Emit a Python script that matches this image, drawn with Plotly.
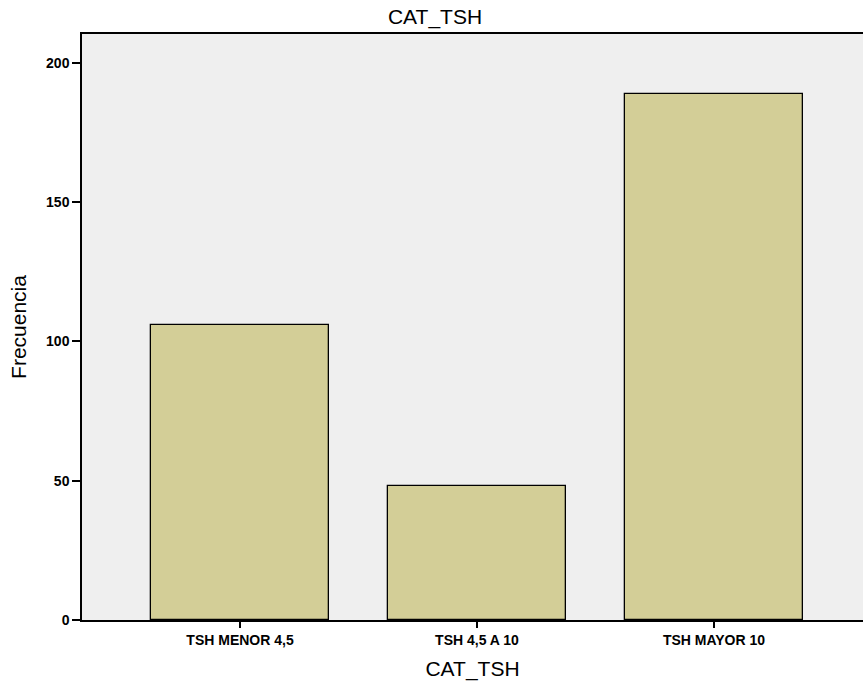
import plotly.graph_objects as go

categories = ["TSH MENOR 4,5", "TSH 4,5 A 10", "TSH MAYOR 10"]
frecuencia = [106, 48, 189]
y_ticks = [0, 50, 100, 150, 200]

fig = go.Figure(go.Bar(
    x=list(range(len(categories))), y=frecuencia, width=0.751,
    marker=dict(color="#D3CE97", line=dict(color="black", width=1.3)),
))

tick_font = dict(family="Liberation Sans, Arial", size=14, color="black", weight="bold")
title_font = dict(family="Liberation Sans, Arial", size=21, color="black")
fig.update_layout(
    width=863, height=682,
    margin=dict(l=82, r=0, t=34, b=62),
    paper_bgcolor="white", plot_bgcolor="#EFEFEF",
    showlegend=False,
    title=dict(text="CAT_TSH", x=435 / 863, xref="container", y=1 - 17 / 682, yref="container",
               xanchor="center", yanchor="middle", font=title_font),
    bargap=0,
)
fig.update_xaxes(
    range=[-0.6667, 2.6287], tickmode="array", tickvals=list(range(len(categories))),
    ticktext=categories, ticks="outside", ticklen=6, tickwidth=1.5, tickcolor="black",
    showline=True, linecolor="black", linewidth=1.5, mirror=True, showgrid=False,
    zeroline=False, tickfont=tick_font,
    title=dict(text="CAT_TSH", standoff=15, font=title_font),
)
fig.update_yaxes(
    range=[0, 210.4], tickmode="array", tickvals=y_ticks, ticks="outside", ticklen=8,
    tickwidth=1.5, tickcolor="black", showline=True, linecolor="black", linewidth=1.5,
    showgrid=False, zeroline=False, tickfont=tick_font,
    title=dict(text="Frecuencia", standoff=14, font=title_font),
)
fig.write_html("out.html", config={"displayModeBar": False},
               post_script="document.body.style.margin='0';")
